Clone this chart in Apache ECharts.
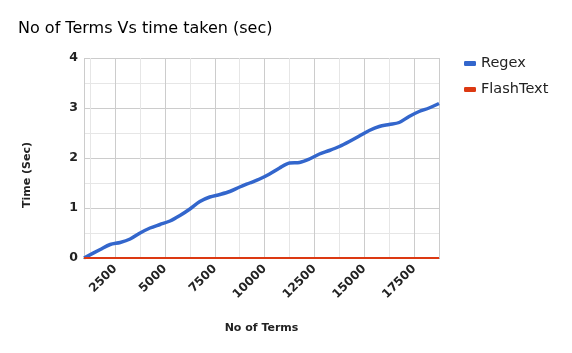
<!DOCTYPE html>
<html>
<head>
<meta charset="utf-8">
<script src="https://cdn.jsdelivr.net/npm/echarts@6/dist/echarts.min.js"></script>
<style>
  html, body { margin: 0; padding: 0; background: #fff; }
  #chart { width: 572px; height: 353px; }
</style>
</head>
<body>
<div id="chart"></div>
<script>
// terms counted (x) and seconds taken (y)
var termCounts = [935, 1750, 2250, 2750, 3250, 3750, 4250, 4750, 5250, 5750, 6250, 6750, 7250, 7750,
    8250, 8750, 9250, 9750, 10250, 10750, 11250, 11750, 12250, 12750, 13250, 13750, 14250,
    14750, 15250, 15750, 16250, 16750, 17250, 17750, 18250, 18750];
var regexTimes = [0, 0.17, 0.27, 0.31, 0.38, 0.50, 0.60, 0.67, 0.74, 0.85, 0.98, 1.13, 1.22, 1.27,
    1.33, 1.42, 1.50, 1.58, 1.68, 1.80, 1.90, 1.91, 1.98, 2.08, 2.15, 2.23, 2.33,
    2.44, 2.55, 2.63, 2.67, 2.71, 2.83, 2.93, 3.00, 3.09];
var flashTextTimes = [0, 0, 0, 0, 0, 0, 0, 0, 0, 0, 0, 0, 0, 0,
    0, 0, 0, 0, 0, 0, 0, 0, 0, 0, 0, 0, 0,
    0, 0, 0, 0, 0, 0, 0, 0, 0];
var seriesNames = ['Regex', 'FlashText'];

function pairs(xs, ys) {
    var out = [];
    for (var i = 0; i < xs.length; i++) {
        out.push([xs[i], ys[i]]);
    }
    return out;
}

var font = 'DejaVu Sans';
var chart = echarts.init(document.getElementById('chart'));
var option = {
    animation: false,
    title: {
        text: 'No of Terms Vs time taken (sec)',
        left: 13,
        top: 16,
        textStyle: { fontFamily: font, fontSize: 16, fontWeight: 'normal', color: '#000' }
    },
    legend: {
        orient: 'vertical',
        left: 459,
        top: 51,
        itemGap: 11,
        itemWidth: 12,
        itemHeight: 5,
        icon: 'roundRect',
        data: seriesNames,
        textStyle: { fontFamily: font, fontSize: 14.5, color: '#222' }
    },
    grid: { left: 84, right: 133, top: 58, bottom: 95 },
    xAxis: {
        type: 'value',
        min: 935,
        max: 18750,
        minInterval: 2500,
        maxInterval: 2500,
        name: 'No of Terms',
        nameLocation: 'middle',
        nameGap: 65,
        nameTextStyle: { fontFamily: font, fontSize: 11, fontWeight: 'bold', color: '#222' },
        axisLine: { show: true, lineStyle: { color: '#333' } },
        axisTick: { show: false },
        axisLabel: {
            rotate: 45,
            margin: 9,
            showMinLabel: false,
            showMaxLabel: false,
            formatter: function (v) { return String(v); },
            fontFamily: font,
            fontSize: 12,
            fontWeight: 'bold',
            color: '#222'
        },
        splitLine: { show: true, lineStyle: { color: '#cccccc' } },
        minorTick: { show: false, splitNumber: 2 },
        minorSplitLine: { show: true, lineStyle: { color: '#e6e6e6' } }
    },
    yAxis: {
        type: 'value',
        min: 0,
        max: 4,
        interval: 1,
        axisLine: { show: false },
        axisTick: { show: false },
        axisLabel: {
            margin: 6,
            fontFamily: font,
            fontSize: 12.5,
            fontWeight: 'bold',
            color: '#222'
        },
        splitLine: { show: true, lineStyle: { color: '#cccccc' } },
        minorTick: { show: false, splitNumber: 2 },
        minorSplitLine: { show: true, lineStyle: { color: '#e6e6e6' } }
    },
    graphic: [{
        type: 'text',
        x: 27,
        y: 175,
        rotation: Math.PI / 2,
        style: {
            text: 'Time (Sec)',
            font: 'bold 11px "DejaVu Sans"',
            fill: '#222',
            align: 'center',
            verticalAlign: 'middle'
        }
    }],
    series: [{
        name: seriesNames[0],
        type: 'line',
        data: pairs(termCounts, regexTimes),
        smooth: 0.3,
        showSymbol: false,
        color: '#3366cc',
        lineStyle: { width: 3.5, color: '#3366cc' }
    }, {
        name: seriesNames[1],
        type: 'line',
        data: pairs(termCounts, flashTextTimes),
        showSymbol: false,
        color: '#dc3912',
        lineStyle: { width: 2, color: '#dc3912' }
    }]
};
chart.setOption(option);
</script>
</body>
</html>
